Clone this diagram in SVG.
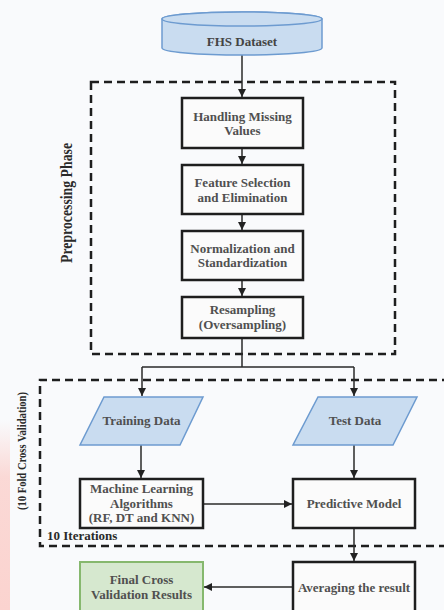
<svg xmlns="http://www.w3.org/2000/svg" width="444" height="610" viewBox="0 0 444 610">
  <defs>
    <marker id="arr" markerUnits="userSpaceOnUse" markerWidth="9" markerHeight="9" refX="8" refY="4" orient="auto">
      <path d="M0,0 L8,4 L0,8 Z" fill="#222"/>
    </marker>
    <linearGradient id="pink" x1="0" y1="0" x2="0" y2="1">
      <stop offset="0" stop-color="#fbd3cf" stop-opacity="0"/>
      <stop offset="0.3" stop-color="#fbd3cf" stop-opacity="0.85"/>
      <stop offset="1" stop-color="#fbd3cf" stop-opacity="1"/>
    </linearGradient>
    <style>
      .box { fill: #fbfbfb; stroke: #1e1e1e; stroke-width: 2.5; }
      .data { fill: #c9dcf0; stroke: #6d9bd0; stroke-width: 1.5; }
      .final { fill: #d6e8cf; stroke: #86b86e; stroke-width: 2; }
      .dash { fill: none; stroke: #1e1e1e; stroke-width: 2.5; stroke-dasharray: 8 5; }
      .t { font-family: "Liberation Serif", "Times New Roman", serif; font-size: 13px; font-weight: bold; fill: #505050; text-anchor: middle; }
      .lab { font-family: "Liberation Serif", "Times New Roman", serif; font-weight: bold; fill: #2a2a2a; text-anchor: middle; }
      .conn { fill: none; stroke: #2a2a2a; stroke-width: 1.5; }
    </style>
  </defs>

  <rect x="0" y="0" width="444" height="610" fill="#f9fafc"/>
  <rect x="0" y="420" width="10" height="190" fill="url(#pink)"/>

  <!-- containers -->
  <g id="preprocessing-phase">
    <rect class="dash" x="91" y="82" width="304" height="272"/>
    <text class="lab" font-size="16" textLength="120" lengthAdjust="spacingAndGlyphs" transform="translate(72,203) rotate(-90)">Preprocessing Phase</text>
  </g>
  <g id="cross-validation">
    <path class="dash" d="M450 380 H40 V546 H450"/>
    <text class="lab" font-size="12.5" textLength="118" lengthAdjust="spacingAndGlyphs" transform="translate(26,451) rotate(-90)">(10 Fold Cross Validation)</text>
    <text class="lab" font-size="13" x="47" y="540" style="text-anchor:start">10 Iterations</text>
  </g>

  <!-- connectors -->
  <g id="connectors">
    <path class="conn" d="M242 55 V97" marker-end="url(#arr)"/>
    <path class="conn" d="M242 148 V164" marker-end="url(#arr)"/>
    <path class="conn" d="M242 214 V230" marker-end="url(#arr)"/>
    <path class="conn" d="M242 280 V296" marker-end="url(#arr)"/>
    <path class="conn" d="M242 338 V367 M142 367 H354"/>
    <path class="conn" d="M142 367 V396" marker-end="url(#arr)"/>
    <path class="conn" d="M354 367 V396" marker-end="url(#arr)"/>
    <path class="conn" d="M141 445 V478" marker-end="url(#arr)"/>
    <path class="conn" d="M354 445 V478" marker-end="url(#arr)"/>
    <path class="conn" d="M203 504 H292" marker-end="url(#arr)"/>
    <path class="conn" d="M354 528 V561" marker-end="url(#arr)"/>
    <path class="conn" d="M293 587 H204" marker-end="url(#arr)"/>
  </g>

  <!-- nodes -->
  <g id="fhs-dataset">
    <path class="data" d="M162 19 V48 A80 7 0 0 0 322 48 V19 A80 7 0 0 0 162 19 Z"/>
    <ellipse class="data" cx="242" cy="19" rx="80" ry="7"/>
    <text class="t" x="242" y="46" style="fill:#444">FHS Dataset</text>
  </g>
  <g id="handling-missing">
    <rect class="box" x="182" y="98" width="121" height="50"/>
    <text class="t" x="242.5" y="120.5">Handling Missing</text>
    <text class="t" x="242.5" y="135">Values</text>
  </g>
  <g id="feature-selection">
    <rect class="box" x="182" y="165" width="121" height="49"/>
    <text class="t" x="242.5" y="187">Feature Selection</text>
    <text class="t" x="242.5" y="201.5">and Elimination</text>
  </g>
  <g id="normalization">
    <rect class="box" x="182" y="231" width="121" height="49"/>
    <text class="t" x="242.5" y="252.5">Normalization and</text>
    <text class="t" x="242.5" y="267">Standardization</text>
  </g>
  <g id="resampling">
    <rect class="box" x="182" y="297" width="121" height="41"/>
    <text class="t" x="242.5" y="314">Resampling</text>
    <text class="t" x="242.5" y="328.5">(Oversampling)</text>
  </g>
  <g id="training-data">
    <polygon class="data" points="104,397 203,397 180,445 80,445"/>
    <text class="t" x="141.5" y="425">Training Data</text>
  </g>
  <g id="test-data">
    <polygon class="data" points="318,397 417,397 393,445 293,445"/>
    <text class="t" x="355" y="425">Test Data</text>
  </g>
  <g id="ml-algorithms">
    <rect class="box" x="80" y="479" width="123" height="49"/>
    <text class="t" x="141.5" y="493">Machine Learning</text>
    <text class="t" x="141.5" y="507.5">Algorithms</text>
    <text class="t" x="141.5" y="522">(RF, DT and KNN)</text>
  </g>
  <g id="predictive-model">
    <rect class="box" x="293" y="479" width="122" height="49"/>
    <text class="t" x="354" y="508">Predictive Model</text>
  </g>
  <g id="averaging">
    <rect class="box" x="293" y="562" width="122" height="60"/>
    <text class="t" x="354" y="591.5">Averaging the result</text>
  </g>
  <g id="final-results">
    <rect class="final" x="80" y="562" width="123" height="60"/>
    <text class="t" x="141.5" y="584">Final Cross</text>
    <text class="t" x="141.5" y="598.5">Validation Results</text>
  </g>
</svg>
